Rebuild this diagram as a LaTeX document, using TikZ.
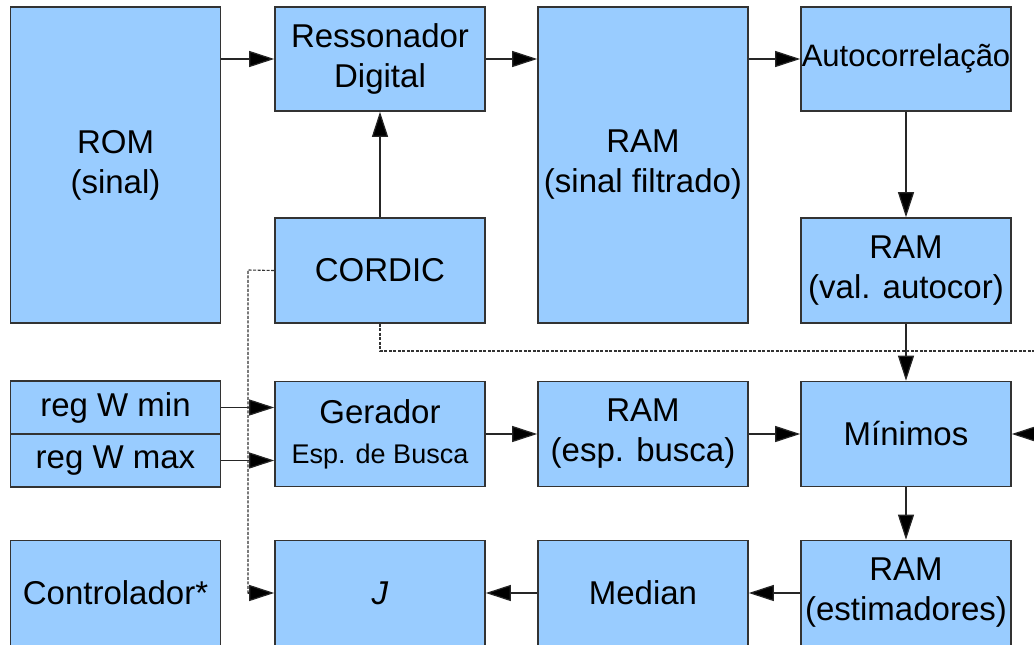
\documentclass[tikz,border=0pt]{standalone}
\usepackage{fontspec}
\setmainfont{Liberation Sans}
\usetikzlibrary{arrows.meta}
\usetikzlibrary{positioning}
\definecolor{boxblue}{HTML}{99CCFF}
\definecolor{boxline}{HTML}{333333}
\tikzset{blk/.style = {draw = boxline, fill = boxblue, line width = 1.6pt, rectangle,
    align = center, inner sep = 0, minimum width = 210pt, minimum height = 105pt,
    font = \fontsize{33}{40}\selectfont}}
\tikzset{tall/.style = {blk, minimum height = 316pt}}
\tikzset{half/.style = {blk, minimum height = 53pt}}
\tikzset{flow/.style = {draw = black!85, line width = 1.2pt, -{Triangle[length = 25pt, width = 16pt, fill = black]}}}
\tikzset{ctl/.style = {draw = black!80, line width = 1.1pt, dash pattern = on 3pt off 1.5pt}}

\begin{document}
\begin{tikzpicture}[x = 1pt, y = -1pt]
      \useasboundingbox (0, 0) rectangle (1034, 645);

      \node [tall] (rom) at (115.5, 165) {ROM\\(sinal)};
      \node [blk, minimum height = 104pt] (res) at (380, 59) {Ressonador\\Digital};
      \node [tall] (ramf) at (643, 165) {RAM\\(sinal filtrado)};
      \node [blk, minimum height = 104pt, font = \fontsize{31}{36}\selectfont] (auto) at (906, 59) {Autocorrelação};
      \node [blk] (cordic) at (380, 270.5) {CORDIC};
      \node [blk] (ramv) at (906, 270.5) {RAM\\(val. autocor)};

      \node [half] (wmin) at (115.5, 407.5) {reg W min};
      \node [half] (wmax) at (115.5, 460.5) {reg W max};
      \node [blk] (ger) at (380, 434) {Gerador\\{\fontsize{27}{30}\selectfont Esp. de Busca}};
      \node [blk] (rame) at (643, 434) {RAM\\(esp. busca)};
      \node [blk] (mini) at (906, 434) {Mínimos};

      \node [blk] (ctrl) at (115.5, 593) {Controlador*};
      \node [blk] (j) at (380, 593) {\textit{J}};
      \node [blk] (med) at (643, 593) {Median};
      \node [blk] (rest) at (906, 593) {RAM\\(estimadores)};

      \coordinate (rin) at (1034, 434);
      \coordinate (d1) at (248, 270);
      \coordinate (d2) at (1034, 351);

      \draw [flow] (rom.east |- res) -- (res.west);
      \draw [flow] (res.east) -- (res.east -| ramf.west);
      \draw [flow] (auto.west -| ramf.east) -- (auto.west);
      \draw [flow] (auto.south) -- (ramv.north);
      \draw [flow] (ramv.south) -- (mini.north);
      \draw [flow] (cordic.north) -- (res.south);
      \draw [flow] (wmin.east) -- (wmin.east -| ger.west);
      \draw [flow] (wmax.east) -- (wmax.east -| ger.west);
      \draw [flow] (ger.east) -- (rame.west);
      \draw [flow] (rame.east) -- (mini.west);
      \draw [flow] (rin) -- (mini.east);
      \draw [flow] (mini.south) -- (rest.north);
      \draw [flow] (rest.west) -- (med.east);
      \draw [flow] (med.west) -- (j.east);

      \draw [ctl] (cordic.west) -- (d1) |- ([xshift = -26pt] j.west);
      \draw [flow] ([xshift = -26pt] j.west) -- (j.west);
      \draw [ctl] (cordic.south) |- (d2);
    \end{tikzpicture}
\end{document}
